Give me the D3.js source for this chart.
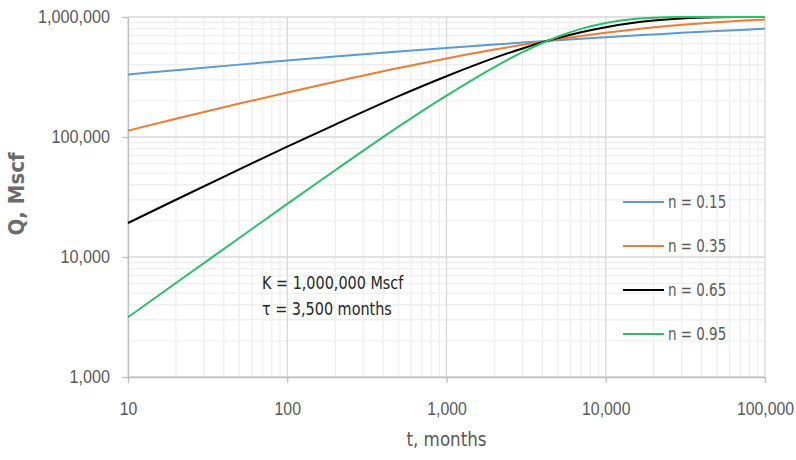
<!DOCTYPE html>
<html>
<head>
<meta charset="utf-8">
<script src="https://cdn.jsdelivr.net/npm/d3@7"></script>
<style>
  body { margin: 0; background: #fff; }
  svg { display: block; font-family: "DejaVu Sans Condensed", "Liberation Sans Narrow", "Open Sans", sans-serif; }
</style>
</head>
<body>
<div id="chart"></div>
<script>
// time, months
var tMonths = [10, 20, 50, 100, 200, 500, 1000, 2000, 3000, 4000, 5000, 7000, 10000, 15000, 20000, 30000, 50000, 70000, 100000];

// cumulative Q, Mscf
var qN015 = [332000, 360000, 401000, 434000, 468000, 515000, 552000, 590000, 612000, 628000, 641000, 659000, 679000, 701000, 716000, 738000, 764000, 781000, 799000];
var qN035 = [113000, 142000, 190000, 235000, 289000, 376000, 451000, 535000, 586000, 623000, 652000, 695000, 739000, 787000, 820000, 861000, 906000, 930000, 951000];
var qN065 = [19200, 30000, 53800, 83100, 127000, 219000, 321000, 456000, 547000, 615000, 668000, 747000, 823000, 895000, 934000, 971000, 993000, 998000, 1000000];
var qN095 = [3150, 6070, 14400, 27700, 52800, 122000, 221000, 383000, 509000, 607000, 685000, 796000, 892000, 962000, 987000, 998000, 1000000, 1000000, 1000000];

var seriesNames = ["n = 0.15", "n = 0.35", "n = 0.65", "n = 0.95"];
var seriesColors = ["#5B9BD5", "#ED7D31", "#000000", "#2DBE6C"];

var xTicks = [10, 100, 1000, 10000, 100000];
var yTicks = [1000, 10000, 100000, 1000000];

var notes = ["K = 1,000,000 Mscf", "\u03c4 = 3,500 months"];

// Set the dimensions
var W = 796, H = 460;
var margin = {top: 17, right: 31, bottom: 83, left: 128};
var width = W - margin.left - margin.right,
    height = H - margin.top - margin.bottom;

var svg = d3.select("#chart").append("svg")
  .attr("width", W)
  .attr("height", H);

var g = svg.append("g")
  .attr("transform", "translate(" + margin.left + "," + margin.top + ")");

var xScale = d3.scaleLog().domain([10, 100000]).range([0, width]);
var yScale = d3.scaleLog().domain([1000, 1000000]).range([height, 0]);

// minor grid values (2..9 in each decade)
function minorVals(ticks) {
  var out = [];
  ticks.slice(0, -1).forEach(function(d) {
    for (var k = 2; k <= 9; k++) out.push(d * k);
  });
  return out;
}

var grid = g.append("g").attr("class", "grid");

grid.selectAll(".vminor").data(minorVals(xTicks)).enter().append("line")
  .attr("x1", function(d) { return xScale(d); })
  .attr("x2", function(d) { return xScale(d); })
  .attr("y1", 0).attr("y2", height)
  .attr("stroke", "#efefef").attr("stroke-width", 1.3);

grid.selectAll(".hminor").data(minorVals(yTicks)).enter().append("line")
  .attr("y1", function(d) { return yScale(d); })
  .attr("y2", function(d) { return yScale(d); })
  .attr("x1", 0).attr("x2", width)
  .attr("stroke", "#efefef").attr("stroke-width", 1.3);

grid.selectAll(".vmajor").data(xTicks).enter().append("line")
  .attr("x1", function(d) { return xScale(d); })
  .attr("x2", function(d) { return xScale(d); })
  .attr("y1", 0).attr("y2", height)
  .attr("stroke", "#d9d9d9").attr("stroke-width", 1.3);

grid.selectAll(".hmajor").data(yTicks).enter().append("line")
  .attr("y1", function(d) { return yScale(d); })
  .attr("y2", function(d) { return yScale(d); })
  .attr("x1", 0).attr("x2", width)
  .attr("stroke", "#d9d9d9").attr("stroke-width", 1.3);

// Axes
var fmt = d3.format(",");
var xAxis = d3.axisBottom(xScale).tickValues(xTicks).tickFormat(fmt)
  .tickSizeInner(6).tickSizeOuter(0).tickPadding(19);
var yAxis = d3.axisLeft(yScale).tickValues(yTicks).tickFormat(fmt)
  .tickSizeInner(6).tickSizeOuter(0).tickPadding(12);

var gx = g.append("g")
  .attr("transform", "translate(0," + height + ")")
  .call(xAxis);
var gy = g.append("g").call(yAxis);

[gx, gy].forEach(function(a) {
  a.select(".domain").attr("stroke", "#bfbfbf").attr("stroke-width", 1.3);
  a.selectAll(".tick line").attr("stroke", "#bfbfbf").attr("stroke-width", 1.3);
  a.selectAll(".tick text")
    .attr("fill", "#595959")
    .style("font-size", "18px")
    .style("font-family", null);
});
// narrow the labels a bit (Calibri-like widths)
gx.selectAll(".tick text").attr("transform", "scale(0.88,1)");
gy.selectAll(".tick text").attr("x", -18 / 0.9).attr("transform", "scale(0.9,1)");

// Lines
var series = [qN015, qN035, qN065, qN095];
var valueline = d3.line()
  .x(function(d) { return xScale(d[0]); })
  .y(function(d) { return yScale(d[1]); })
  .curve(d3.curveMonotoneX);

series.forEach(function(vals, i) {
  g.append("path")
    .datum(tMonths.map(function(t, j) { return [t, vals[j]]; }))
    .attr("fill", "none")
    .attr("stroke", seriesColors[i])
    .attr("stroke-width", 2)
    .attr("d", valueline);
});

// Legend
var legend = svg.append("g").attr("transform", "translate(623,202)");
seriesNames.forEach(function(name, i) {
  var row = legend.append("g").attr("transform", "translate(0," + (i * 44) + ")");
  row.append("line")
    .attr("x1", 0).attr("x2", 41)
    .attr("stroke", seriesColors[i]).attr("stroke-width", 2);
  row.append("g").attr("transform", "translate(45,0)")
    .append("text")
    .attr("dy", "0.36em")
    .attr("transform", "scale(0.83,1)")
    .attr("fill", "#595959")
    .style("font-size", "18px")
    .text(name);
});

// Annotation
svg.selectAll(".note").data(notes).enter().append("g")
  .attr("transform", function(d, i) { return "translate(262," + (289 + i * 26) + ")"; })
  .append("text")
  .attr("transform", "scale(0.89,1)")
  .attr("fill", "#262626")
  .style("font-size", "18px")
  .text(function(d) { return d; });

// Axis titles
svg.append("text")
  .attr("transform", "translate(24,194)rotate(-90)")
  .attr("text-anchor", "middle")
  .attr("fill", "#6b6b6b")
  .style("font-size", "22px")
  .style("font-weight", "bold")
  .text("Q, Mscf");

svg.append("g")
  .attr("transform", "translate(" + (margin.left + width / 2) + ",446)")
  .append("text")
  .attr("text-anchor", "middle")
  .attr("transform", "scale(0.93,1)")
  .attr("fill", "#595959")
  .style("font-size", "20px")
  .text("t, months");
</script>
</body>
</html>
